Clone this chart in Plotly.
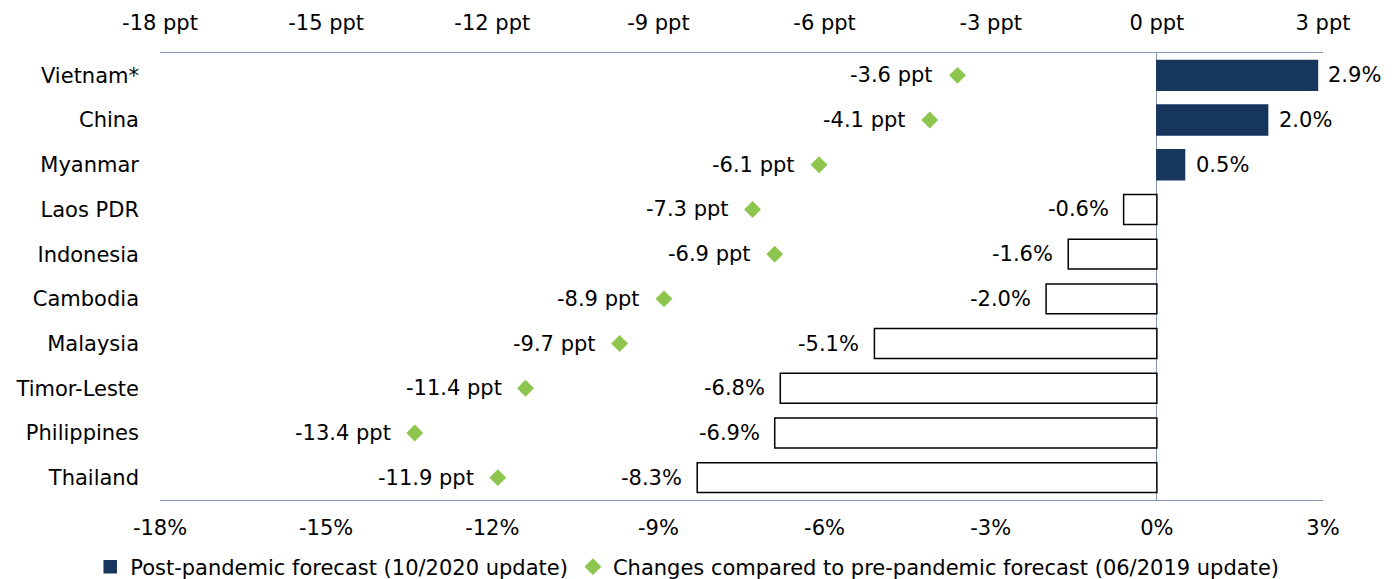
import plotly.graph_objects as go

countries = ["Vietnam*", "China", "Myanmar", "Laos PDR", "Indonesia", "Cambodia",
             "Malaysia", "Timor-Leste", "Philippines", "Thailand"]
forecast_2020 = [2.9, 2.0, 0.5, -0.6, -1.6, -2.0, -5.1, -6.8, -6.9, -8.3]
change_ppt = [-3.6, -4.1, -6.1, -7.3, -6.9, -8.9, -9.7, -11.4, -13.4, -11.9]
x_ticks = [-18, -15, -12, -9, -6, -3, 0, 3]

NAVY = "#17365D"
GREEN = "#8DC54F"
AXIS = "#8497B0"
FONT = "DejaVu Sans, Liberation Sans, Arial, sans-serif"
FS = 21

fig = go.Figure()
fig.add_trace(go.Bar(
    y=countries, x=forecast_2020, orientation="h", width=0.67,
    marker=dict(color=[NAVY if v > 0 else "white" for v in forecast_2020],
                line=dict(color=[NAVY if v > 0 else "black" for v in forecast_2020], width=1.5)),
    name="Post-pandemic forecast (10/2020 update)", xaxis="x", yaxis="y",
))
fig.add_trace(go.Scatter(
    y=countries, x=change_ppt, mode="markers",
    marker=dict(symbol="diamond", size=13, color=GREEN),
    name="Changes compared to pre-pandemic forecast (06/2019 update)", xaxis="x2", yaxis="y",
))

annotations = []
for c, v in zip(countries, forecast_2020):
    annotations.append(dict(x=v, y=c, xref="x", yref="y", text=f"{v:.1f}%",
                            showarrow=False, xanchor="left" if v > 0 else "right",
                            xshift=9 if v > 0 else -13,
                            font=dict(family=FONT, size=FS, color="black")))
for c, v in zip(countries, change_ppt):
    annotations.append(dict(x=v, y=c, xref="x2", yref="y", text=f"{v:.1f} ppt",
                            showarrow=False, xanchor="right", xshift=-22,
                            font=dict(family=FONT, size=FS, color="black")))

axis_common = dict(range=[-18, 3], tickvals=x_ticks, showgrid=False, showline=True,
                   linecolor=AXIS, linewidth=1.3, ticks="", automargin=False,
                   tickfont=dict(family=FONT, size=FS, color="black"), fixedrange=True)

fig.update_layout(
    width=1390, height=571,
    margin=dict(l=152, r=75, t=45, b=79, autoexpand=False),
    plot_bgcolor="white", paper_bgcolor="white",
    font=dict(family=FONT, size=FS, color="black"),
    barmode="overlay",
    xaxis=dict(**axis_common, ticktext=[f"{t}%" for t in x_ticks], side="bottom",
               ticklabelstandoff=9,
               zeroline=True, zerolinecolor=AXIS, zerolinewidth=1.3),
    xaxis2=dict(**axis_common, ticktext=[f"{t} ppt" for t in x_ticks], side="top",
                ticklabelstandoff=13, overlaying="x", anchor="y", zeroline=False),
    yaxis=dict(categoryorder="array", categoryarray=countries, range=[9.5, -0.5],
               showgrid=False, showline=False, ticks="", ticklabelstandoff=20,
               automargin=False, fixedrange=True,
               tickfont=dict(family=FONT, size=FS, color="black"), zeroline=False),
    legend=dict(orientation="h", x=-0.06, xanchor="left",
                y=-0.104, yanchor="top",
                font=dict(family=FONT, size=FS, color="black"), itemwidth=30,
                bgcolor="rgba(0,0,0,0)"),
    annotations=annotations,
    showlegend=True,
)

fig.write_html("out.html")
